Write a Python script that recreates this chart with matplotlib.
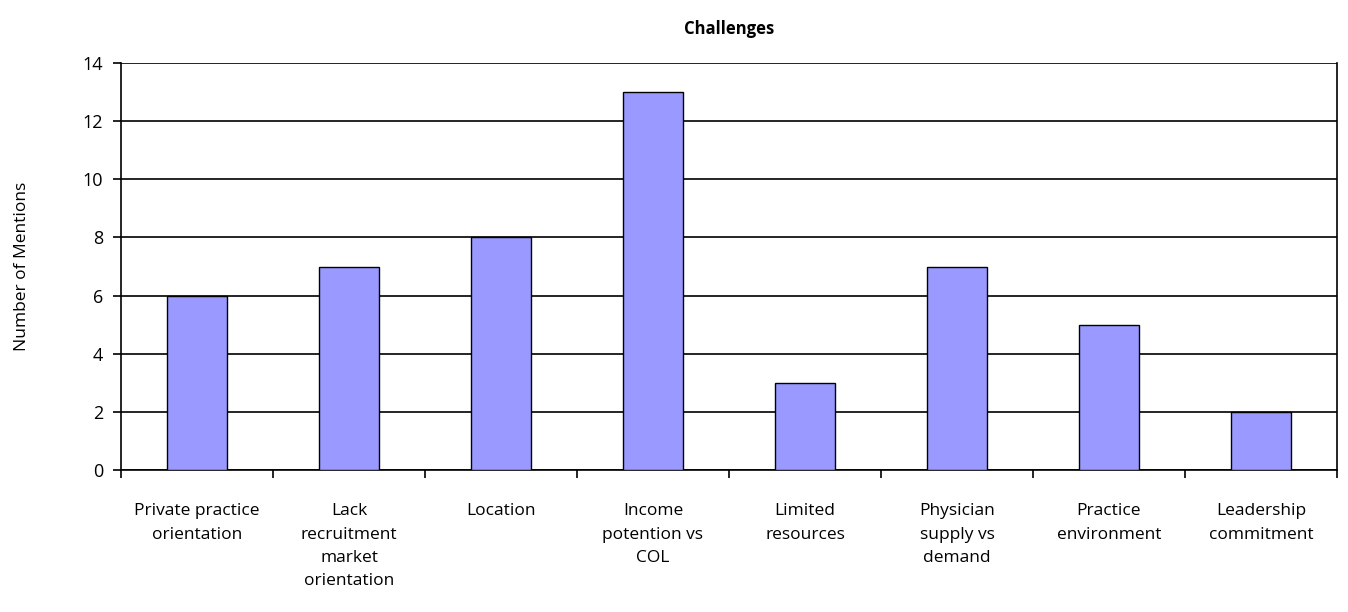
import matplotlib
matplotlib.use("Agg")
import matplotlib.pyplot as plt
import numpy as np

categories = ["Private practice\norientation", "Lack\nrecruitment\nmarket\norientation",
              "Location", "Income\npotention vs\nCOL", "Limited\nresources",
              "Physician\nsupply vs\ndemand", "Practice\nenvironment", "Leadership\ncommitment"]
values = [6, 7, 8, 13, 3, 7, 5, 2]
yticks = [0, 2, 4, 6, 8, 10, 12, 14]

plt.rcParams['font.family'] = ['Open Sans', 'DejaVu Sans']

fig = plt.figure(figsize=(13.48, 6.12), dpi=100)
ax = fig.add_axes([121/1348, 1-470/612, (1337-121)/1348, (470-63)/612])

x = np.arange(len(categories))
ax.bar(x, values, width=0.4, color='#9999FF', edgecolor='black', linewidth=1, zorder=3)

ax.set_xlim(-0.5, len(categories)-0.5)
ax.set_ylim(0, 14)
ax.set_yticks(yticks)
ax.yaxis.grid(True, color='black', linewidth=1.2, zorder=0)
ax.set_axisbelow(True)

ax.set_xticks(x)
ax.set_xticklabels(categories, fontsize=12.5, linespacing=1.6)
ax.tick_params(axis='x', length=0, pad=24)
ax.set_xticks(np.arange(len(categories)+1) - 0.5, minor=True)
ax.tick_params(axis='x', which='minor', length=6, width=1.2, direction='out')
ax.tick_params(axis='y', length=6, width=1.2, direction='out', labelsize=13, pad=7)

for s in ['left', 'right', 'bottom', 'top']:
    ax.spines[s].set_linewidth(1.2)
ax.spines['top'].set_visible(False)

ax.set_ylabel("Number of Mentions", fontsize=12.5, labelpad=38)
ax.set_title("Challenges", fontsize=12, fontweight='bold', pad=21)

fig.savefig("out.png", dpi=100)
